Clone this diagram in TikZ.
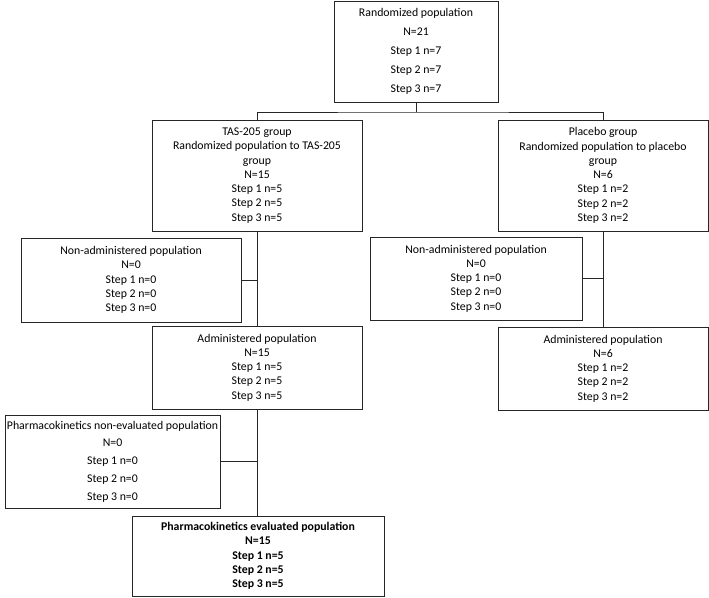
\documentclass[tikz,border=0pt]{standalone}
\usepackage{fontspec}
\setmainfont{Carlito}
\tikzset{
  popbox/.style={draw=black!85, line width=1pt, align=center, inner sep=0pt,
    font=\fontsize{11.8}{14.3}\selectfont},
  widegap/.style={font=\fontsize{11.8}{19}\selectfont},
  midgap/.style={font=\fontsize{11.8}{17.8}\selectfont},
}
\begin{document}
\begin{tikzpicture}[x=1pt,y=-1pt]
		\useasboundingbox (0,0) rectangle (709,597);

		\begin{scope}[every node/.style={popbox}]
			\node[widegap, minimum width=164pt, minimum height=101pt] (rand) at (416,51.5)
				{Randomized population\\N=21\\Step 1 n=7\\Step 2 n=7\\Step 3 n=7};
			\node[minimum width=210pt, minimum height=111pt] (tas) at (257,175.5)
				{TAS-205 group\\Randomized population to TAS-205\\group\\N=15\\Step 1 n=5\\Step 2 n=5\\Step 3 n=5};
			\node[minimum width=210pt, minimum height=111pt] (plac) at (603,175.5)
				{Placebo group\\Randomized population to placebo\\group\\N=6\\Step 1 n=2\\Step 2 n=2\\Step 3 n=2};
			\node[minimum width=220pt, minimum height=84pt] (nonadmT) at (131,280)
				{Non-administered population\\N=0\\Step 1 n=0\\Step 2 n=0\\Step 3 n=0};
			\node[minimum width=212pt, minimum height=83pt] (nonadmP) at (476,278.5)
				{Non-administered population\\N=0\\Step 1 n=0\\Step 2 n=0\\Step 3 n=0};
			\node[minimum width=210pt, minimum height=83pt] (admT) at (257,367.5)
				{Administered population\\N=15\\Step 1 n=5\\Step 2 n=5\\Step 3 n=5};
			\node[minimum width=210pt, minimum height=83pt] (admP) at (603,368.5)
				{Administered population\\N=6\\Step 1 n=2\\Step 2 n=2\\Step 3 n=2};
			\node[midgap, minimum width=215pt, minimum height=93pt] (pknon) at (112.5,461.5)
				{Pharmacokinetics non-evaluated population\\N=0\\Step 1 n=0\\Step 2 n=0\\Step 3 n=0};
			\node[minimum width=252pt, minimum height=80pt, font=\fontsize{11.8}{14.3}\selectfont\bfseries] (pkeval) at (258,556)
				{Pharmacokinetics evaluated population\\N=15\\Step 1 n=5\\Step 2 n=5\\Step 3 n=5};
		\end{scope}

		\coordinate (split) at (416,112);

		\begin{scope}[every path/.style={draw=black!85, line width=1pt}]
			\path (rand.south) -- (split);
			\path (tas.north) |- (split) -| (plac.north);
			\path (tas.south) -- (admT.north);
			\path (nonadmT.east) -- (nonadmT.east -| tas.south);
			\path (plac.south) -- (admP.north);
			\path (nonadmP.east) -- (nonadmP.east -| plac.south);
			\path (admT.south) -- (admT.south |- pkeval.north);
			\path (pknon.east) -- (pknon.east -| admT.south);
		\end{scope}
	\end{tikzpicture}
\end{document}
